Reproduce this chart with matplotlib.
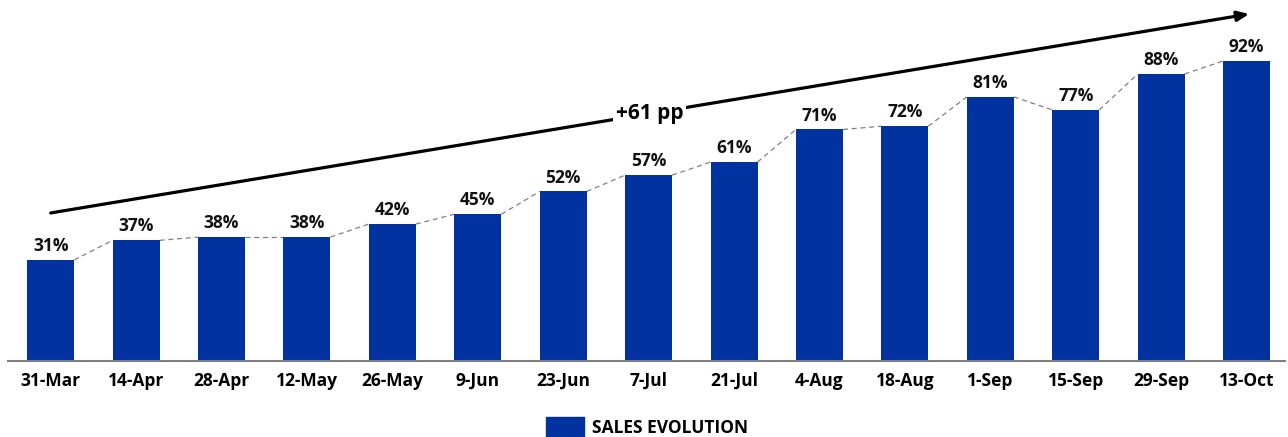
import matplotlib.pyplot as plt
from matplotlib.patches import Patch

dates = ["31-Mar", "14-Apr", "28-Apr", "12-May", "26-May", "9-Jun", "23-Jun", "7-Jul",
         "21-Jul", "4-Aug", "18-Aug", "1-Sep", "15-Sep", "29-Sep", "13-Oct"]
sales = [31, 37, 38, 38, 42, 45, 52, 57, 61, 71, 72, 81, 77, 88, 92]
trend_label = "+61 pp"
legend_label = "SALES EVOLUTION"

bar_color = "#0033a0"
width = 0.55

plt.rcParams['font.family'] = ['Open Sans', 'DejaVu Sans']
plt.rcParams['font.weight'] = 'bold'

fig = plt.figure(figsize=(12.88, 4.37), dpi=100)
ax = fig.add_axes([8 / 1288, 76 / 437, 1277 / 1288, 361 / 437])

x = list(range(len(dates)))
ax.bar(x, sales, width=width, color=bar_color, zorder=2)

# dashed connectors between neighbouring bar tops
for i in range(len(sales) - 1):
    ax.plot([i + width / 2, i + 1 - width / 2], [sales[i], sales[i + 1]],
            color="#808080", lw=0.9, ls=(0, (4, 3)), zorder=1)

for i, v in enumerate(sales):
    ax.text(i, v + 1.5, f"{v}%", ha="center", va="bottom", fontsize=12.5,
            fontweight="bold", color="#111111")

# overall trend arrow
x0, y0, x1, y1 = 0, 45.4, 14.03, 106.4
ax.annotate("", xy=(x1, y1), xytext=(x0, y0),
            arrowprops=dict(arrowstyle="-|>,head_length=0.7,head_width=0.3",
                            lw=2.3, color="black", shrinkA=0, shrinkB=0),
            annotation_clip=False)
mx = 7.01
my = y0 + (y1 - y0) * (mx - x0) / (x1 - x0)
ax.text(mx, my, trend_label, ha="center", va="center", fontsize=15, fontweight="bold",
        bbox=dict(facecolor="white", edgecolor="none", pad=2))

ax.set_xlim(-0.5, 14.45)
ax.set_ylim(0, 110.7)
ax.set_xticks(x)
ax.set_xticklabels(dates, fontsize=12.5, fontweight="bold")
ax.tick_params(axis="x", length=0, pad=8)
ax.set_yticks([])
for side in ["top", "right", "left"]:
    ax.spines[side].set_visible(False)
ax.spines["bottom"].set_color("#7f7f7f")
ax.spines["bottom"].set_linewidth(1.5)

fig.legend(handles=[Patch(color=bar_color, label=legend_label)], loc="center",
           bbox_to_anchor=(647 / 1288, 1 - 427 / 437), frameon=False,
           prop={"size": 12.5, "weight": "bold"}, handlelength=2.2, handleheight=1.4,
           handletextpad=0.5, borderpad=0.2)

fig.savefig("out.png", dpi=100)
